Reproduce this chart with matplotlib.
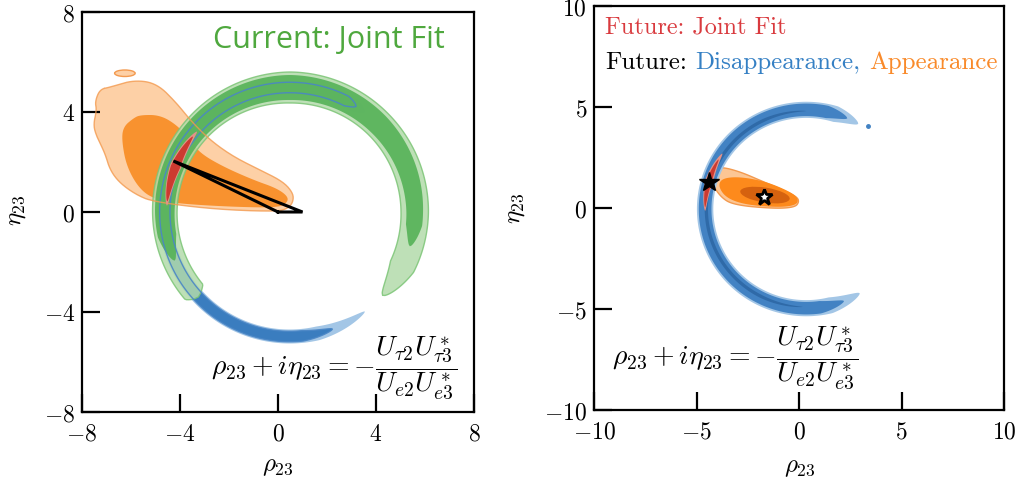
import numpy as np
import matplotlib
matplotlib.use("Agg")
import matplotlib.pyplot as plt
from matplotlib.patches import Ellipse

plt.rcParams["mathtext.fontset"] = "cm"
plt.rcParams["font.family"] = ["DejaVu Sans"]

# ---------------------------------------------------------------- data
# Left panel: current constraints
ringL_center = (0.48, 0.0)
ringL_radii = (5.10, 4.98)

# green joint-fit ring (2 sigma / 1 sigma): span in degrees, half-width knots
greenL_2s_span = (-42, 223)
greenL_2s_hw = ([-42, 0, 45, 90, 135, 180, 223], [0.50, 0.56, 0.58, 0.62, 0.55, 0.50, 0.47])
greenL_1s_span = (-16, 203)
greenL_1s_hw = ([-16, 0, 45, 90, 135, 180, 203], [0.32, 0.34, 0.44, 0.50, 0.45, 0.40, 0.36])

# blue disappearance ring
blueL_2s_span = (53, 307)
blueL_2s_hw = ([53, 307], [0.28, 0.28])
blueL_1s_span = (58, 290)
blueL_1s_hw = ([58, 290], [0.21, 0.21])

# red future joint fit on the current plot
redL_2s_span = (139, 177)
redL_1s_span = (142, 175)

# orange appearance regions (outline vertices)
appL_2s_rho = [-7.27, -6.86, -5.90, -4.95, -4.13, -3.59, -2.78, -1.82, -0.73, 0.22, 0.62,
               0.62, 0.42, -0.05, -2.64, -5.09, -5.77, -6.45, -6.86, -7.06, -7.40, -7.54,
               -7.40, -7.47]
appL_2s_eta = [4.91, 4.99, 5.28, 5.15, 4.35, 3.68, 2.88, 2.21, 1.68, 1.21, 0.75,
               0.41, 0.15, 0.01, 0.11, 0.41, 0.68, 1.15, 1.68, 2.35, 3.01, 3.48,
               4.08, 4.41]
appL_1s_rho = [-5.63, -4.82, -4.13, -3.60, -3.18, -2.23, -1.00, -0.05, 0.42, 0.36, -0.05,
               -1.96, -4.00, -4.95, -5.63, -6.18, -6.38, -6.31, -5.90]
appL_1s_eta = [3.88, 3.88, 3.48, 2.90, 2.35, 1.81, 1.28, 0.95, 0.61, 0.35, 0.17,
               0.21, 0.33, 0.48, 0.88, 1.81, 2.88, 3.41, 3.75]
appL_island = (-6.25, 5.55, 0.84, 0.26)  # centre rho, centre eta, width, height

# unitarity triangle
tri_rho = [0.0, 1.0, -4.27, 0.0]
tri_eta = [0.0, 0.0, 2.04, 0.0]

# Right panel: future sensitivity
ringR_center = (0.35, -0.05)
ringR_radii = (4.93, 4.91)
blueR_2s_span = (59, 302)
blueR_2s_hw = ([59, 180, 302], [0.40, 0.40, 0.40])
blueR_1s_span = (66, 292)
blueR_1s_hw = ([66, 180, 292], [0.31, 0.31, 0.31])
blueR_core_span = (90, 268)
blueR_core_hw = ([90, 268], [0.08, 0.08])
blueR_speck = (3.38, 4.07)

redR_2s_span = (146, 181)
redR_1s_span = (150, 179)

appR_2s_rho = [-4.59, -3.85, -2.88, -1.74, -0.77, -0.11, 0.01, -0.20, -1.25, -3.20, -3.85, -4.34]
appR_2s_eta = [1.88, 2.05, 1.80, 1.30, 0.89, 0.56, 0.31, 0.03, -0.03, 0.15, 0.56, 1.39]
appR_1s_rho = [-3.77, -2.88, -1.58, -0.44, -0.03, -0.11, -0.93, -2.55, -3.53, -3.94]
appR_1s_eta = [1.47, 1.55, 1.30, 0.81, 0.48, 0.15, 0.03, 0.15, 0.48, 1.06]
appR_core = (-1.66, 0.64, 2.44, 0.74, -9)  # centre, width, height, angle

true_point = (-4.38, 1.30)
app_best = (-1.72, 0.55)

# axis ticks
ticksL = [-8, -4, 0, 4, 8]
tick_labelsL = [r"$-8$", r"$-4$", r"$0$", r"$4$", r"$8$"]
ticksR = [-10, -5, 0, 5, 10]
tick_labelsR = [r"$-10$", r"$-5$", r"$0$", r"$5$", r"$10$"]

formula = r"$\rho_{23} + i\eta_{23} = -\dfrac{U_{\tau 2}U^*_{\tau 3}}{U_{e2}U^*_{e3}}$"

# --------------------------------------------------------------- colours
c_green_light = "#b3dbab"
c_green_edge = "#7cc576"
c_green_mid = "#55b257"
c_green_text = "#4fa83e"
c_blue_light = "#a3c6e6"
c_blue_mid = "#4282c3"
c_blue_dark = "#2f6aa8"
c_blue_line = "#4a86c6"
c_red_light = "#e49289"
c_red = "#cc3a30"
c_org_light = "#fdd0a6"
c_org_edge = "#f39a4f"
c_org_mid = "#f8922f"
c_org_light_R = "#fcc694"
c_org_mid_R = "#fd8a1c"
c_org_dark_R = "#d5620f"

cm_text = ["cmr10", "DejaVu Serif"]


# --------------------------------------------------------------- helpers
def smooth(xs, ys, n=4):
    """Chaikin corner cutting for a closed outline."""
    p = np.column_stack([xs, ys]).astype(float)
    for _ in range(n):
        q = np.roll(p, -1, axis=0)
        out = np.empty((2 * len(p), 2))
        out[0::2] = 0.75 * p + 0.25 * q
        out[1::2] = 0.25 * p + 0.75 * q
        p = out
    return p[:, 0], p[:, 1]


def ring_band(ax, center, radii, span, hw, tapers=None, power=0.6, offset=0.0, **kw):
    cx, cy = center
    rx, ry = radii
    t0, t1 = span
    t = np.linspace(t0, t1, 400)
    if np.isscalar(hw):
        w = np.full_like(t, hw)
    else:
        w = np.interp(t, hw[0], hw[1])
    if tapers is None:
        tapers = ((t1 - t0) / 2, (t1 - t0) / 2)
    ramp = np.clip(np.minimum((t - t0) / tapers[0], (t1 - t) / tapers[1]), 0, 1) ** power
    w = w * ramp
    a = np.radians(t)
    xo = cx + (rx + offset + w) * np.cos(a)
    yo = cy + (ry + offset + w) * np.sin(a)
    xi = cx + (rx + offset - w) * np.cos(a)
    yi = cy + (ry + offset - w) * np.sin(a)
    xs = np.r_[xo, xi[::-1]]
    ys = np.r_[yo, yi[::-1]]
    return ax.fill(xs, ys, **kw)


def style_axes(ax, ticks, labels):
    ax.set_xlim(ticks[0], ticks[-1])
    ax.set_ylim(ticks[0], ticks[-1])
    ax.set_xticks(ticks, labels)
    ax.set_yticks(ticks, labels)
    ax.tick_params(direction="in", length=13, width=1.6, labelsize=17,
                   top=False, right=False)
    ax.tick_params(axis="x", pad=7)
    ax.tick_params(axis="y", pad=5)
    for s in ax.spines.values():
        s.set_linewidth(1.6)


# --------------------------------------------------------------- figure
fig = plt.figure(figsize=(10.27, 4.82), dpi=100)
axL = fig.add_axes([82 / 1027, 1 - 412 / 482, 392 / 1027, 400 / 482])
axR = fig.add_axes([594 / 1027, 1 - 410 / 482, 410 / 1027, 404 / 482])

# ---- left panel
xs, ys = smooth(appL_2s_rho, appL_2s_eta)
axL.fill(xs, ys, color=c_org_light, lw=0, zorder=1)
axL.add_patch(Ellipse(appL_island[:2], appL_island[2], appL_island[3],
                      facecolor=c_org_light, edgecolor=c_org_edge, lw=1, zorder=1))
xs1, ys1 = smooth(appL_1s_rho, appL_1s_eta)
axL.fill(xs1, ys1, color=c_org_mid, lw=0, zorder=1)

ring_band(axL, ringL_center, ringL_radii, blueL_2s_span, blueL_2s_hw, (6, 24),
          color=c_blue_light, lw=0, zorder=2)
ring_band(axL, ringL_center, ringL_radii, blueL_1s_span, blueL_1s_hw, (5, 14),
          color="#3a7dbf", lw=0, zorder=2)

ring_band(axL, ringL_center, ringL_radii, greenL_2s_span, greenL_2s_hw, (16, 3),
          facecolor=c_green_light, edgecolor=c_green_edge, lw=1.0, alpha=0.85, zorder=3)
ring_band(axL, ringL_center, ringL_radii, greenL_1s_span, greenL_1s_hw, (10, 12),
          color=c_green_mid, lw=0, alpha=0.9, zorder=3)
ring_band(axL, ringL_center, ringL_radii, blueL_1s_span, blueL_1s_hw, (5, 14),
          facecolor="none", edgecolor=c_blue_line, lw=1.0, alpha=0.9, zorder=4)
axL.plot(xs, ys, color=c_org_edge, lw=1.0, alpha=0.8, zorder=4)

ring_band(axL, ringL_center, ringL_radii, redL_2s_span, 0.23, offset=-0.08,
          color=c_red_light, lw=0, zorder=5)
ring_band(axL, ringL_center, ringL_radii, redL_1s_span, 0.19, offset=-0.08,
          color=c_red, lw=0, zorder=5)

axL.plot(tri_rho, tri_eta, color="black", lw=2.2, zorder=6, solid_joinstyle="miter")

axL.text(0.926, 0.93, "Current: Joint Fit", transform=axL.transAxes, ha="right",
         va="center", fontsize=22, color=c_green_text, family=["Open Sans", "DejaVu Sans"])
axL.text(0.957, 0.11, formula, transform=axL.transAxes, ha="right", va="center",
         fontsize=20, zorder=7)

style_axes(axL, ticksL, tick_labelsL)
axL.set_xlabel(r"$\rho_{23}$", fontsize=18)
axL.set_ylabel(r"$\eta_{23}$", fontsize=18)
axL.xaxis.set_label_coords(0.5, -0.105)
axL.yaxis.set_label_coords(-0.138, 0.505)

# ---- right panel
xs, ys = smooth(appR_2s_rho, appR_2s_eta)
axR.fill(xs, ys, facecolor=c_org_light_R, edgecolor=c_org_edge, lw=1.0, zorder=1)
xs1, ys1 = smooth(appR_1s_rho, appR_1s_eta)
axR.fill(xs1, ys1, color=c_org_mid_R, lw=0, zorder=1)
axR.add_patch(Ellipse(appR_core[:2], appR_core[2], appR_core[3], angle=appR_core[4],
                      color=c_org_dark_R, lw=0, zorder=1))

ring_band(axR, ringR_center, ringR_radii, blueR_2s_span, blueR_2s_hw, (14, 18),
          color=c_blue_light, lw=0, zorder=2)
ring_band(axR, ringR_center, ringR_radii, blueR_1s_span, blueR_1s_hw, (12, 14),
          color=c_blue_mid, lw=0, zorder=2)
ring_band(axR, ringR_center, ringR_radii, blueR_core_span, blueR_core_hw, (25, 25),
          offset=-0.06, color=c_blue_dark, lw=0, zorder=2)
axR.plot(*blueR_speck, marker="o", ms=2.5, color=c_blue_mid, zorder=2)

ring_band(axR, ringR_center, ringR_radii, redR_2s_span, 0.2, color=c_red_light,
          lw=0, zorder=3)
ring_band(axR, ringR_center, ringR_radii, redR_1s_span, 0.14, color=c_red,
          lw=0, zorder=3)

axR.plot(*true_point, marker="*", ms=15, color="black", zorder=5)
axR.plot(*app_best, marker="*", ms=12, mfc="white", mec="black", mew=2, zorder=5)

axR.text(0.027, 0.948, "Future: Joint Fit", transform=axR.transAxes,
         ha="left", va="center", fontsize=17.5, color="#d93a3e", family=cm_text)
axR.text(0.027, 0.859, "Future:", transform=axR.transAxes,
         ha="left", va="center", fontsize=18, color="black", family=cm_text)
axR.text(0.246, 0.859, "Disappearance,", transform=axR.transAxes,
         ha="left", va="center", fontsize=18, color="#3580c4", family=cm_text)
axR.text(0.671, 0.859, "Appearance", transform=axR.transAxes,
         ha="left", va="center", fontsize=18, color="#f98a2a", family=cm_text)
axR.text(0.044, 0.128, formula, transform=axR.transAxes, ha="left", va="center",
         fontsize=20, zorder=7)

style_axes(axR, ticksR, tick_labelsR)
axR.set_xlabel(r"$\rho_{23}$", fontsize=18)
axR.set_ylabel(r"$\eta_{23}$", fontsize=18)
axR.xaxis.set_label_coords(0.502, -0.111)
axR.yaxis.set_label_coords(-0.163, 0.5)

fig.savefig("out.png", dpi=100)
